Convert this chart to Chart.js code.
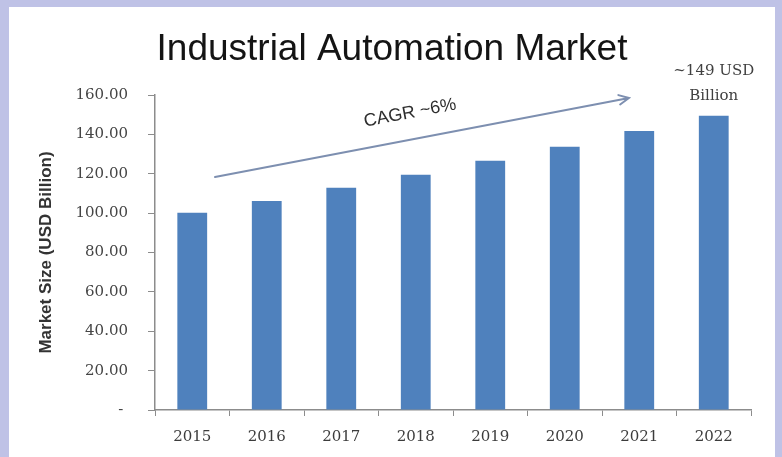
<!DOCTYPE html>
<html>
<head>
<meta charset="utf-8">
<script src="https://cdn.jsdelivr.net/npm/chart.js@4/dist/chart.umd.min.js"></script>
<style>
  html, body { margin: 0; padding: 0; background: #bfc2e6; width: 782px; height: 457px; overflow: hidden; }
  #wrap { position: absolute; left: 9px; top: 7px; width: 766px; height: 450px; background: #ffffff; }
  canvas { display: block; }
</style>
</head>
<body>
<div id="wrap"><canvas id="c" width="766" height="450"></canvas></div>
<script>
// ---- data ----
const categories = ['2015', '2016', '2017', '2018', '2019', '2020', '2021', '2022'];
const marketSize = [100.2, 106.1, 112.9, 119.5, 126.6, 133.7, 141.7, 149.4];
const yTicks = [0, 20, 40, 60, 80, 100, 120, 140, 160];
const titleText = 'Industrial Automation Market';
const yAxisTitle = 'Market Size (USD Billion)';
const cagrLabel = 'CAGR ~6%';
const lastValueLabel = ['~149 USD', 'Billion'];
// arrow annotation in data units: [categoryIndex, value]
const arrowStart = [0.305, 118.3];
const arrowEnd = [5.862, 158.5];
const cagrLabelPos = [2.923, 150.8];

const annotationPlugin = {
  id: 'annots',
  afterDatasetsDraw(chart) {
    const ctx = chart.ctx;
    const xs = chart.scales.x, ys = chart.scales.y;
    // title
    ctx.save();
    ctx.fillStyle = '#141414';
    ctx.font = '37px "Liberation Sans", Arial, sans-serif';
    ctx.textAlign = 'center';
    ctx.textBaseline = 'middle';
    ctx.fillText(titleText, chart.width / 2, 43);
    ctx.restore();

    // arrow
    const x1 = xs.getPixelForValue(arrowStart[0]), y1 = ys.getPixelForValue(arrowStart[1]);
    const x2 = xs.getPixelForValue(arrowEnd[0]), y2 = ys.getPixelForValue(arrowEnd[1]);
    const ang = Math.atan2(y2 - y1, x2 - x1);
    ctx.save();
    ctx.strokeStyle = '#7d8fb0';
    ctx.lineWidth = 2;
    ctx.lineCap = 'round';
    ctx.beginPath();
    ctx.moveTo(x1, y1);
    ctx.lineTo(x2, y2);
    const hl = 11, ha = 0.45;
    ctx.moveTo(x2 - hl * Math.cos(ang - ha), y2 - hl * Math.sin(ang - ha));
    ctx.lineTo(x2, y2);
    ctx.lineTo(x2 - hl * Math.cos(ang + ha), y2 - hl * Math.sin(ang + ha));
    ctx.stroke();
    ctx.restore();

    // CAGR label
    ctx.save();
    ctx.translate(xs.getPixelForValue(cagrLabelPos[0]), ys.getPixelForValue(cagrLabelPos[1]));
    ctx.rotate(ang);
    ctx.fillStyle = '#2e2e2e';
    ctx.font = '18px "Liberation Sans", Arial, sans-serif';
    ctx.textAlign = 'center';
    ctx.textBaseline = 'middle';
    ctx.fillText(cagrLabel, 0, 0);
    ctx.restore();

    // last value label above 2022 bar
    const lx = xs.getPixelForValue(categories.length - 1);
    const topY = ys.getPixelForValue(ys.max);
    ctx.save();
    ctx.fillStyle = '#404040';
    ctx.font = '15px "DejaVu Serif", serif';
    ctx.textAlign = 'center';
    ctx.textBaseline = 'middle';
    ctx.fillText(lastValueLabel[0], lx, topY - 24);
    ctx.fillText(lastValueLabel[1], lx, topY + 1);
    ctx.restore();
  }
};

new Chart(document.getElementById('c'), {
  type: 'bar',
  data: {
    labels: categories,
    datasets: [{
      data: marketSize,
      backgroundColor: '#4f81bd',
      borderWidth: 0,
      barPercentage: 0.4,
      categoryPercentage: 1.0
    }]
  },
  options: {
    responsive: false,
    animation: false,
    events: [],
    layout: { padding: { top: 88, right: 24, bottom: 0, left: 0 } },
    plugins: {
      legend: { display: false },
      title: { display: false },
      tooltip: { enabled: false }
    },
    scales: {
      x: {
        offset: true,
        grid: {
          offset: true,
          drawOnChartArea: false,
          drawTicks: true,
          tickLength: 6,
          color: '#8c8c8c',
          lineWidth: 1
        },
        border: { display: true, color: '#8c8c8c', width: 1.5 },
        ticks: {
          color: '#3c3c3c',
          padding: 12,
          font: { family: '"DejaVu Serif", serif', size: 15 },
          maxRotation: 0
        },
        afterFit(scale) { scale.height = 47; }
      },
      y: {
        min: 0,
        max: 160,
        afterBuildTicks(scale) { scale.ticks = yTicks.map(v => ({ value: v })); },
        grid: {
          drawOnChartArea: false,
          drawTicks: true,
          tickLength: 7,
          color: '#8c8c8c'
        },
        border: { display: true, color: '#8c8c8c', width: 1.5 },
        ticks: {
          color: '#454545',
          padding: 20,
          font: { family: '"DejaVu Serif", serif', size: 15 },
          callback(v) { return v === 0 ? '- ' : Number(v).toFixed(2); }
        },
        title: {
          display: true,
          text: yAxisTitle,
          color: '#333333',
          font: { family: '"Liberation Sans", Arial, sans-serif', size: 17, weight: 'bold' },
          padding: { top: 27, bottom: 0 }
        },
        afterFit(scale) { scale.width = 146; }
      }
    }
  },
  plugins: [annotationPlugin]
});
</script>
</body>
</html>
